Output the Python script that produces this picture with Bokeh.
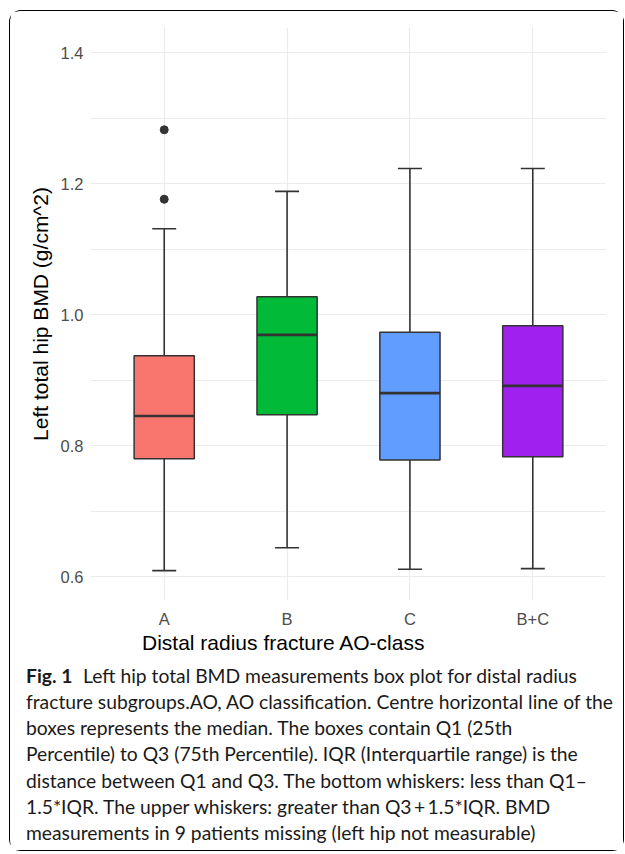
from bokeh.plotting import figure
from bokeh.layouts import column
from bokeh.models import FactorRange, Range1d, FixedTicker, Label, NumeralTickFormatter
from bokeh.embed import file_html
from bokeh.resources import INLINE

categories = ["A", "B", "C", "B+C"]
q1 = [0.780, 0.847, 0.778, 0.783]
median = [0.845, 0.969, 0.880, 0.891]
q3 = [0.937, 1.027, 0.973, 0.983]
whisker_low = [0.609, 0.644, 0.611, 0.612]
whisker_high = [1.131, 1.188, 1.223, 1.223]
outlier_cat = ["A", "A"]
outlier_val = [1.282, 1.176]
colors = ["#F8766D", "#00BA38", "#619CFF", "#A020F0"]
y_ticks = [0.6, 0.8, 1.0, 1.2, 1.4]
y_minor = [0.7, 0.9, 1.1, 1.3]

x_title = "Distal radius fracture AO-class"
y_title = "Left total hip BMD (g/cm^2)"
caption_bold = "Fig. 1"
caption_lines = [
    "Left hip total BMD measurements box plot for distal radius",
    "fracture subgroups.AO, AO classification. Centre horizontal line of the",
    "boxes represents the median. The boxes contain Q1 (25th",
    "Percentile) to Q3 (75th Percentile). IQR (Interquartile range) is the",
    "distance between Q1 and Q3. The bottom whiskers: less than Q1\u2013",
    "1.5*IQR. The upper whiskers: greater than Q3\u2009+\u20091.5*IQR. BMD",
    "measurements in 9 patients missing (left hip not measurable)",
]

INNER_W = 613
CHART_H = 619
CAP_TOP = 638.5
CAP_H = 220

# ---------------- chart ----------------
p = figure(width=INNER_W, height=CHART_H, title=None,
           x_range=FactorRange(factors=categories, range_padding=0.05),
           y_range=Range1d(0.5634, 1.4382),
           output_backend="svg", toolbar_location=None,
           min_border_left=80, min_border_right=17, min_border_top=16, min_border_bottom=30)
p.outline_line_color = None
p.background_fill_color = "white"
p.border_fill_color = "white"

p.xgrid.grid_line_color = "#EBEBEB"
p.xgrid.grid_line_width = 1.2
p.ygrid.grid_line_color = "#EBEBEB"
p.ygrid.grid_line_width = 1.2
p.ygrid.minor_grid_line_color = "#EBEBEB"
p.ygrid.minor_grid_line_width = 1.0

p.yaxis.ticker = FixedTicker(ticks=y_ticks, minor_ticks=y_minor)
p.yaxis.formatter = NumeralTickFormatter(format="0.0")
for ax in (p.xaxis[0], p.yaxis[0]):
    ax.axis_line_color = None
    ax.major_tick_line_color = None
    ax.minor_tick_line_color = None
    ax.major_tick_out = 0
    ax.major_tick_in = 0
    ax.minor_tick_out = 0
    ax.minor_tick_in = 0
    ax.major_label_text_font = "Liberation Sans"
    ax.major_label_text_font_size = "16.5px"
    ax.major_label_text_color = "#4D4D4D"
p.yaxis.major_label_standoff = 7
p.xaxis.major_label_standoff = 9
p.yaxis.axis_label = y_title
p.yaxis.axis_label_text_font = "Liberation Sans"
p.yaxis.axis_label_text_font_size = "21px"
p.yaxis.axis_label_text_font_style = "normal"
p.yaxis.axis_label_text_color = "black"
p.yaxis.axis_label_standoff = 6

p.segment(x0=categories, y0=q3, x1=categories, y1=whisker_high, line_color="#333333", line_width=1.6)
p.segment(x0=categories, y0=q1, x1=categories, y1=whisker_low, line_color="#333333", line_width=1.6)
p.scatter(x=categories, y=whisker_high, marker="dash", size=24, line_color="#333333", line_width=1.6)
p.scatter(x=categories, y=whisker_low, marker="dash", size=24, line_color="#333333", line_width=1.6)

p.vbar(x=categories, top=q3, bottom=q1, width=0.49, fill_color=colors,
       line_color="#333333", line_width=1.5)
p.vbar(x=categories, top=median, bottom=median, width=0.49, fill_color=None,
       line_color="#333333", line_width=2.6)

p.scatter(x=outlier_cat, y=outlier_val, size=8, fill_color="#333333", line_color="#333333")

# ---------------- caption (page-pixel coordinates) ----------------
c = figure(width=INNER_W, height=CAP_H, title=None,
           x_range=Range1d(10.5, 10.5 + INNER_W), y_range=Range1d(CAP_TOP + CAP_H, CAP_TOP),
           x_axis_location=None, y_axis_location=None,
           output_backend="svg", toolbar_location=None, min_border=0)
c.grid.visible = False
c.outline_line_color = None
c.background_fill_color = "white"
c.border_fill_color = "white"

c.add_layout(Label(x=142, y=650, text=x_title, text_font="Liberation Sans", text_font_size="21px",
                   text_color="black", text_baseline="alphabetic", text_align="left"))

cap_font = "Lato"
cap_size = "19.3px"
base0 = 683
step = 26.3
c.add_layout(Label(x=26, y=base0, text=caption_bold, text_font=cap_font, text_font_size=cap_size,
                   text_font_style="bold", text_color="#1a1a1a",
                   text_baseline="alphabetic", text_align="left"))
for i, line in enumerate(caption_lines):
    x0 = 83 if i == 0 else 26
    c.add_layout(Label(x=x0, y=base0 + i * step, text=line, text_font=cap_font,
                       text_font_size=cap_size, text_color="#1a1a1a",
                       text_baseline="alphabetic", text_align="left"))

top_part = column(p, styles={"border": "1.5px solid black", "border-bottom": "none",
                             "border-radius": "12px 12px 0 0",
                             "margin-left": "9px", "margin-top": "10px", "background": "white"})
bottom_part = column(c, styles={"border": "1.5px solid black", "border-top": "none",
                                "border-radius": "0 0 12px 12px",
                                "margin-left": "9px", "background": "white"})

open("out.html", "w").write(file_html([top_part, bottom_part], INLINE))
